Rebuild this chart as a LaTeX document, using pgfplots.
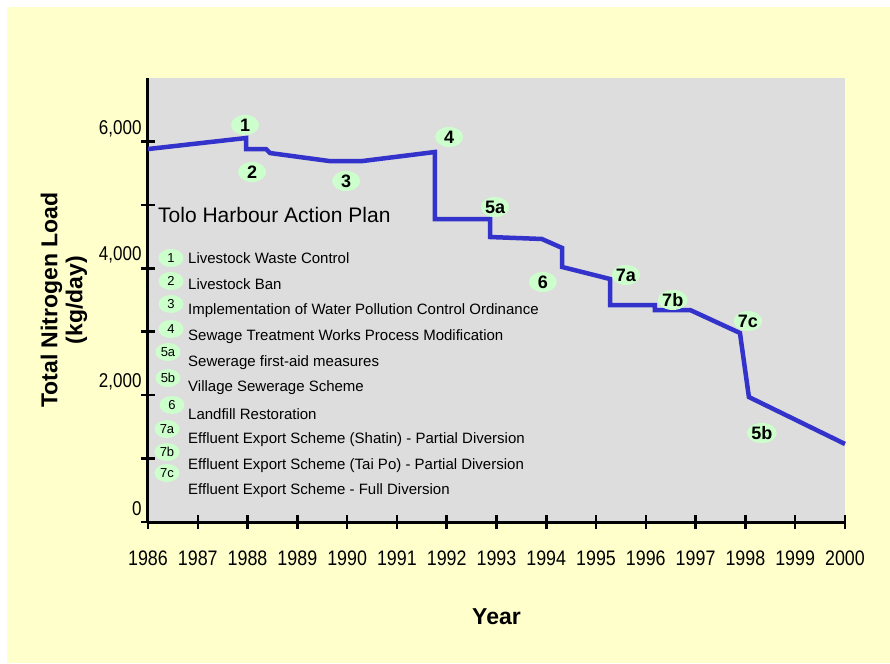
\documentclass[border=0pt]{standalone}
\usepackage{fontspec}
\setmainfont{Liberation Sans}
\newfontfamily\narrowfont[FakeStretch=0.85]{Liberation Sans}
\usepackage{pgfplots}
\pgfplotsset{compat=1.18}
\usetikzlibrary{shapes.geometric}
\definecolor{bgyellow}{HTML}{FFFFCC}
\definecolor{plotgray}{HTML}{DDDDDD}
\definecolor{lineblue}{HTML}{3333CC}
\definecolor{taggreen}{HTML}{CCFFCC}
\tikzset{tag/.style={ellipse, fill=taggreen, inner sep=0pt, minimum width=28pt, minimum height=20pt, font=\bfseries\fontsize{18}{18}\selectfont}}
\begin{document}
\begin{tikzpicture}[x=1pt,y=1pt]
\path[use as bounding box] (-148,522) rectangle (742,-141);
\fill[white] (-148,522) rectangle (742,-141);
\fill[bgyellow] (-141,515) rectangle (742,-141);
\begin{axis}[
  scale only axis, width=697pt, height=444pt,
  xmin=1986, xmax=2000, ymin=0, ymax=7000,
  axis background/.style={fill=plotgray},
  axis x line*=bottom, axis y line*=left,
  axis line style={line width=3pt, -, black},
  xtick={1986,1987,...,2000},
  ytick={0,2000,4000,6000},
  minor ytick={1000,3000,5000},
  tick align=center,
  major tick length=14pt, minor tick length=14pt,
  every tick/.style={line width=2.5pt, black},
  every minor tick/.style={line width=2.5pt, black},
  /pgf/number format/assume math mode=true,
  xticklabel style={/pgf/number format/1000 sep={}, font=\narrowfont\fontsize{21}{21}\selectfont, anchor=center, yshift=-29pt},
  yticklabel style={/pgf/number format/1000 sep={,}, font=\narrowfont\fontsize{20}{20}\selectfont, anchor=east, xshift=4pt, yshift=13pt},
  xlabel={Year},
  xlabel style={font=\bfseries\fontsize{23}{23}\selectfont, at={(axis description cs:0.5,0)}, anchor=center, yshift=-95pt},
  clip=false,
]
\addplot[lineblue, line width=4.5pt, line join=miter] coordinates {
(1986.00,5880)
(1987.97,6054)
(1987.97,5880)
(1988.37,5880)
(1988.45,5817)
(1989.65,5690)
(1990.30,5690)
(1991.76,5833)
(1991.76,4777)
(1992.87,4777)
(1992.87,4493)
(1993.91,4462)
(1994.32,4320)
(1994.32,4020)
(1995.28,3831)
(1995.28,3421)
(1996.18,3421)
(1996.18,3342)
(1996.89,3342)
(1997.89,2980)
(1998.07,1970)
(2000.00,1230)
};
\node[tag] at (axis cs:1987.95,6259) {1};
\node[tag] at (axis cs:1988.09,5518) {2};
\node[tag] at (axis cs:1989.98,5376) {3};
\node[tag] at (axis cs:1992.05,6070) {4};
\node[tag] at (axis cs:1992.97,4966) {5a};
\node[tag] at (axis cs:1993.93,3784) {6};
\node[tag] at (axis cs:1995.60,3894) {7a};
\node[tag] at (axis cs:1996.54,3500) {7b};
\node[tag] at (axis cs:1998.05,3169) {7c};
\node[tag] at (axis cs:1998.33,1403) {5b};
\end{axis}
\node[rotate=90, align=center, font=\bfseries\fontsize{23}{25}\selectfont] at (-84,222) {Total Nitrogen Load\\(kg/day)};
\node[anchor=west, inner sep=0pt, font=\fontsize{21}{21}\selectfont] at (10,307) {Tolo Harbour Action Plan};
\begin{scope}[every node/.style={anchor=west, inner sep=0pt, font=\fontsize{15}{15}\selectfont}]
\node at (40,264) {Livestock Waste Control};
\node at (40,238) {Livestock Ban};
\node at (40,211) {Implementation of Water Pollution Control Ordinance};
\node at (40,185) {Sewage Treatment Works Process Modification};
\node at (40,159) {Sewerage first-aid measures};
\node at (40,134) {Village Sewerage Scheme};
\node at (40,108) {Landfill Restoration};
\node at (40,82) {Effluent Export Scheme (Shatin) - Partial Diversion};
\node at (40,56) {Effluent Export Scheme (Tai Po) - Partial Diversion};
\node at (40,31) {Effluent Export Scheme - Full Diversion};
\end{scope}
\begin{scope}[every node/.style={ellipse, fill=taggreen, inner sep=0pt, minimum width=25pt, minimum height=18pt, font=\fontsize{13}{13}\selectfont}]
\node at (23,264) {1};
\node at (23,241) {2};
\node at (23,218) {3};
\node at (23,193) {4};
\node at (20,170) {5a};
\node at (20,144) {5b};
\node at (24,117) {6};
\node at (19,93) {7a};
\node at (19,70) {7b};
\node at (19,49) {7c};
\end{scope}
\end{tikzpicture}
\end{document}
